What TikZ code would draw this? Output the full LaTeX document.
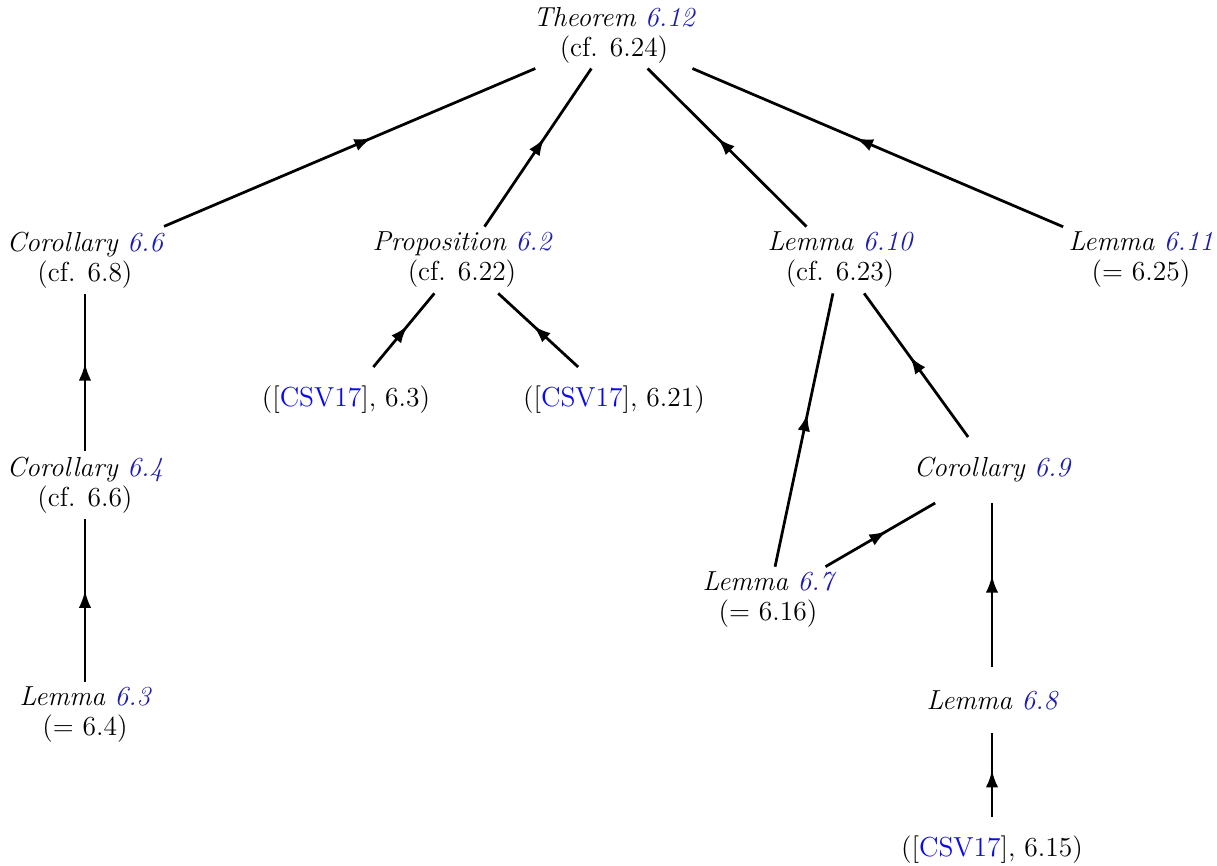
\documentclass[tikz,border=0pt]{standalone}
\usepackage{tikz}
\usetikzlibrary{arrows.meta, positioning, decorations.markings}
\definecolor{refblue}{RGB}{28,28,175}
\definecolor{citeblue}{RGB}{10,10,235}
\newcommand{\lnk}[1]{\textcolor{refblue}{#1}}
\newcommand{\cte}[1]{\textcolor{citeblue}{#1}}

\begin{document}
\begin{tikzpicture}[on grid, font=\fontsize{11}{12}\selectfont,
                result/.style={align=center, minimum height=26pt, inner sep=2pt},
                implies/.style={line width=1.1pt, postaction={decorate},
                    decoration={markings, mark=at position 0.56 with {\arrow{Latex[length=7pt, width=5pt]}}}}]
                \useasboundingbox (-245.6pt,14pt) rectangle (241.2pt,-332pt);
                % Main theorem on top
                \node[result] (thm) at (0,0) {\textit{Theorem \lnk{6.12}}\\(cf. 6.24)};

                % Second row
                \node[result, below left=90pt and 211.6pt of thm] (cor66) {\textit{Corollary \lnk{6.6}}\\(cf. 6.8)};
                \node[result, below left=90pt and 60.8pt of thm] (prop62) {\textit{Proposition \lnk{6.2}}\\(cf. 6.22)};
                \node[result, below right=90pt and 90.4pt of thm] (lem610) {\textit{Lemma \lnk{6.10}}\\(cf. 6.23)};
                \node[result, below right=90pt and 210.8pt of thm] (lem611) {\textit{Lemma \lnk{6.11}}\\(= 6.25)};

                % Left column
                \node[result, below=90pt of cor66] (cor64) {\textit{Corollary \lnk{6.4}}\\(cf. 6.6)};
                \node[result, below=92pt of cor64] (lem63) {\textit{Lemma \lnk{6.3}}\\(= 6.4)};

                % Under the proposition
                \node[result, below left=56pt and 46.4pt of prop62] (csv63) {([\cte{CSV17}], 6.3)};
                \node[result, below right=56pt and 60.8pt of prop62] (csv621) {([\cte{CSV17}], 6.21)};

                % Under Lemma 6.10
                \node[result, below right=84pt and 60.8pt of lem610] (cor69) {\textit{Corollary \lnk{6.9}}};
                \node[result, below left=136pt and 28.8pt of lem610] (lem67) {\textit{Lemma \lnk{6.7}}\\(= 6.16)};
                \node[result, below=92pt of cor69] (lem68) {\textit{Lemma \lnk{6.8}}};
                \node[result, below=60pt of lem68] (csv615) {([\cte{CSV17}], 6.15)};

                % Implications
                \draw[implies] (cor66) -- (thm);
                \draw[implies] (prop62) -- (thm);
                \draw[implies] (lem610) -- (thm);
                \draw[implies] (lem611) -- (thm);
                \draw[implies] (cor64) -- (cor66);
                \draw[implies] (lem63) -- (cor64);
                \draw[implies] (csv63) -- (prop62);
                \draw[implies] (csv621) -- (prop62);
                \draw[implies] (lem67) -- (lem610);
                \draw[implies] (cor69) -- (lem610);
                \draw[implies] (lem67) -- (cor69);
                \draw[implies] (lem68) -- (cor69);
                \draw[implies] (csv615) -- (lem68);
            \end{tikzpicture}
\end{document}
